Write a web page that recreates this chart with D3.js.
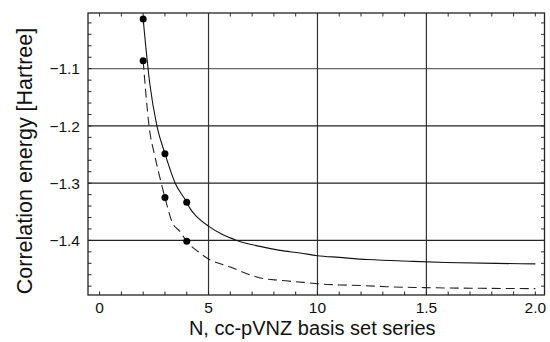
<!DOCTYPE html>
<html>
<head>
<meta charset="utf-8">
<script src="https://cdn.jsdelivr.net/npm/d3@7"></script>
<style>
  body { margin: 0; background: #fff; }
  text { font-family: "Liberation Sans", Arial, sans-serif; fill: #111; }
</style>
</head>
<body>
<div id="chart"></div>
<script>
// basis set points (N = 2,3,4) and the extrapolation curves
var dot_n = [2, 3, 4]
var solid_dots = [-1.0132, -1.2484, -1.3332]
var dashed_dots = [-1.0860, -1.3250, -1.4017]

var solid_n = [2, 2.3, 2.63, 3, 3.47, 4, 4.15, 4.47, 5, 5.6, 6.3, 7.36, 8.28, 9.2, 10, 11, 12.3, 14.4, 15.9, 18.2, 20]
var solid_e = [-1.0132, -1.125, -1.20, -1.2484, -1.30, -1.3332, -1.3441, -1.3588, -1.3751, -1.389, -1.400, -1.4105, -1.4175, -1.422, -1.4267, -1.4297, -1.4335, -1.4367, -1.4385, -1.4402, -1.441]

var dashed_n = [2, 2.27, 2.55, 2.83, 3, 3.32, 3.7, 4, 4.5, 5, 6, 6.76, 7.38, 8.28, 9.36, 10.1, 11, 12.1, 13.2, 14.9, 17.5, 20]
var dashed_e = [-1.0860, -1.20, -1.255, -1.30, -1.3250, -1.3672, -1.385, -1.4017, -1.419, -1.4325, -1.4465, -1.4582, -1.4656, -1.4698, -1.4733, -1.476, -1.4778, -1.479, -1.481, -1.4825, -1.4837, -1.4843]

var x_ticks = [0, 5, 10, 15, 20]
var x_tick_labels = ["0", "5", "10", "1.5", "2.0"]
var y_ticks = [-1.1, -1.2, -1.3, -1.4]
var y_tick_labels = ["\u22121.1", "\u22121.2", "\u22121.3", "\u22121.4"]

var x_label = "N, cc-pVNZ basis set series"
var y_label = "Correlation energy [Hartree]"

var margin = {top: 13, right: 5.5, bottom: 47, left: 88}
var width = 550 - margin.left - margin.right
var height = 342 - margin.top - margin.bottom

var svg = d3.select("#chart")
  .append("svg")
    .attr("width", 550)
    .attr("height", 342)

var g = svg.append("g")
    .attr("transform", "translate(" + margin.left + "," + margin.top + ")")

var xScale = d3.scaleLinear()
    .domain([-0.532, 20.42])
    .range([0, width])

var yScale = d3.scaleLinear()
    .domain([-1.4954, -1.0027])
    .range([height, 0])

// grid
g.selectAll(".hgrid")
  .data(y_ticks)
  .enter()
  .append("line")
    .attr("class", "hgrid")
    .attr("x1", 0).attr("x2", width)
    .attr("y1", d => yScale(d)).attr("y2", d => yScale(d))
    .attr("stroke", (d, i) => i == 0 ? "#666" : "#222")
    .attr("stroke-width", 1.2)

g.selectAll(".vgrid")
  .data(x_ticks.slice(1, 4))
  .enter()
  .append("line")
    .attr("class", "vgrid")
    .attr("y1", 0).attr("y2", height)
    .attr("x1", d => xScale(d)).attr("x2", d => xScale(d))
    .attr("stroke", "#333")
    .attr("stroke-width", 1.2)

// minor ticks, inside on all four sides
var x_minor = d3.range(0, 21)
var y_minor = d3.range(-1.48, -1.0, 0.02)
var tick_len = 3.5

g.append("g").selectAll("line")
  .data(x_minor)
  .enter().append("line")
    .attr("x1", d => xScale(d)).attr("x2", d => xScale(d))
    .attr("y1", height).attr("y2", height - tick_len)
    .attr("stroke", "#222")
g.append("g").selectAll("line")
  .data(x_minor)
  .enter().append("line")
    .attr("x1", d => xScale(d)).attr("x2", d => xScale(d))
    .attr("y1", 0).attr("y2", tick_len)
    .attr("stroke", "#333")
g.append("g").selectAll("line")
  .data(y_minor)
  .enter().append("line")
    .attr("x1", 0).attr("x2", tick_len)
    .attr("y1", d => yScale(d)).attr("y2", d => yScale(d))
    .attr("stroke", "#222")
g.append("g").selectAll("line")
  .data(y_minor)
  .enter().append("line")
    .attr("x1", width).attr("x2", width - tick_len)
    .attr("y1", d => yScale(d)).attr("y2", d => yScale(d))
    .attr("stroke", "#333")

// frame
g.append("rect")
    .attr("width", width)
    .attr("height", height)
    .attr("fill", "none")
    .attr("stroke", "#222")
    .attr("stroke-width", 1.3)

// tick labels
g.selectAll(".xlab")
  .data(x_ticks)
  .enter().append("text")
    .attr("class", "xlab")
    .attr("x", d => xScale(d))
    .attr("y", height + 17.5)
    .attr("text-anchor", "middle")
    .style("font-size", "15.5px")
    .text((d, i) => x_tick_labels[i])

g.selectAll(".ylab")
  .data(y_ticks)
  .enter().append("text")
    .attr("class", "ylab")
    .attr("x", -8)
    .attr("y", d => yScale(d))
    .attr("dy", "0.36em")
    .attr("text-anchor", "end")
    .style("font-size", "15.5px")
    .text((d, i) => y_tick_labels[i])

// axis titles
svg.append("text")
    .attr("x", margin.left + width / 2 - 4)
    .attr("y", 335)
    .attr("text-anchor", "middle")
    .style("font-size", "20px")
    .text(x_label)

svg.append("text")
    .attr("transform", "translate(" + 32 + "," + 161 + ")rotate(-90)")
    .attr("text-anchor", "middle")
    .style("font-size", "21.5px")
    .text(y_label)

// curves
var line = d3.line()
    .curve(d3.curveMonotoneX)
    .x(d => xScale(d[0]))
    .y(d => yScale(d[1]))

g.append("path")
    .datum(d3.zip(dashed_n, dashed_e))
    .attr("d", line)
    .attr("fill", "none")
    .attr("stroke", "#222")
    .attr("stroke-width", 1.1)
    .attr("stroke-dasharray", "9,5")

g.append("path")
    .datum(d3.zip(solid_n, solid_e))
    .attr("d", line)
    .attr("fill", "none")
    .attr("stroke", "#111")
    .attr("stroke-width", 1.1)

g.append("g").selectAll("circle")
  .data(d3.zip(dot_n, solid_dots).concat(d3.zip(dot_n, dashed_dots)))
  .enter().append("circle")
    .attr("cx", d => xScale(d[0]))
    .attr("cy", d => yScale(d[1]))
    .attr("r", 3.5)
    .attr("fill", "#000")
</script>
</body>
</html>
